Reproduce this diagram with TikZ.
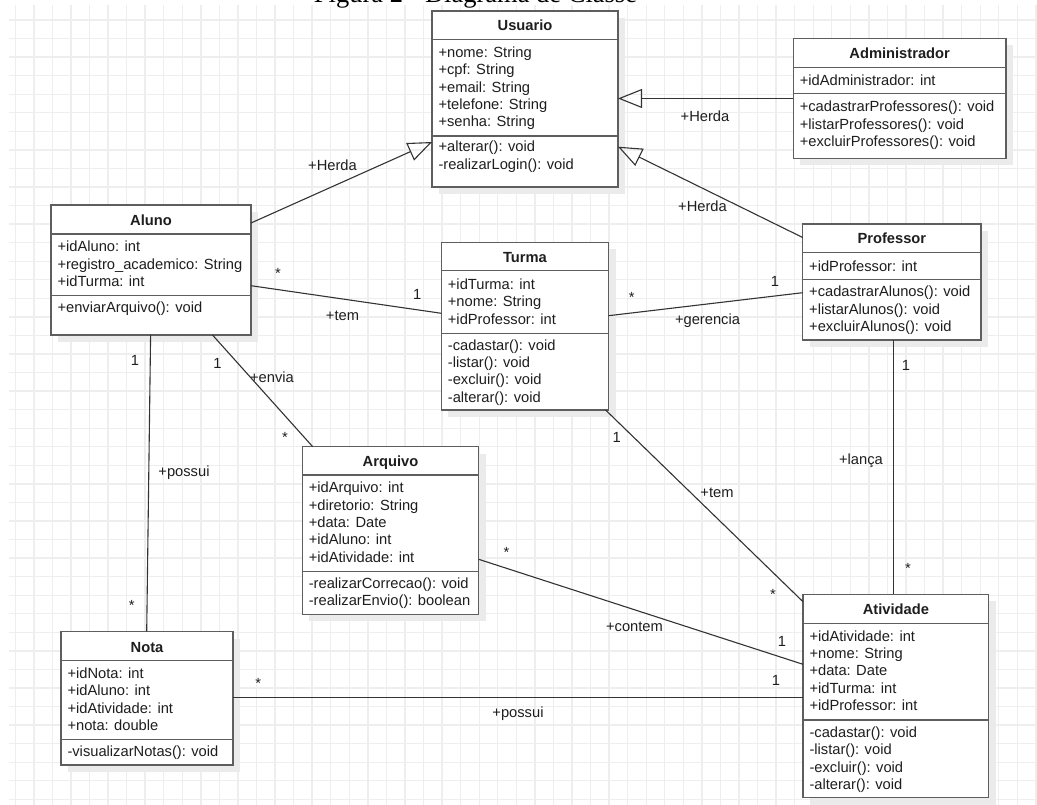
\documentclass[tikz,border=0pt]{standalone}
\usepackage{fontspec}
\setmainfont{Liberation Sans}
\newfontfamily\titlefont{Liberation Serif}
\usetikzlibrary{arrows.meta,calc}
\definecolor{gridc}{HTML}{EEEEEE}
\definecolor{boxc}{HTML}{5E5E5E}
\definecolor{linec}{HTML}{333333}
\definecolor{txtc}{HTML}{1E1E1E}
\definecolor{shadc}{HTML}{EBEBEB}

\newcommand\umlbox[8]{% name, x1, y1, x2, y2, header sep, attr sep, title
  \fill[shadc] (#2+7,#3+7) rectangle (#4+7,#5+7);
  \node[classbox, minimum width={(#4-#2)*1pt}, minimum height={(#5-#3)*1pt}] (#1) at (#2,#3) {};
  \draw[sepline] (#1.west |- 0,#6) -- (#1.east |- 0,#6);
  \draw[sepline] (#1.west |- 0,#7) -- (#1.east |- 0,#7);
  \node[ttl] (#1-title) at (#1.north |- 0,#6-8.6) {#8};
}
\newcommand\members[4]{% prefix, x, first baseline, list
  \foreach \t [count=\i from 0] in {#4} {\node[ln] (#1-\i) at (#2, #3+17.3*\i) {\t};}
}

\begin{document}
\begin{tikzpicture}[x=1pt,y=-1pt,
  every node/.style={font=\fontsize{14.7}{17.3}\selectfont, text=txtc, inner sep=0pt, outer sep=0pt},
  classbox/.style={draw=boxc, line width=1.5pt, fill=white, anchor=north west, inner sep=0pt, outer sep=0pt},
  sepline/.style={draw=boxc, line width=1.5pt},
  assoc/.style={draw=linec, line width=1.1pt},
  inherit/.style={assoc, -{Triangle[open, length=24pt, width=19pt, line width=1.1pt]}},
  ttl/.style={anchor=base, font=\fontsize{14.7}{17.3}\selectfont\bfseries},
  ln/.style={anchor=base west},
  lbl/.style={anchor=base}
]
\useasboundingbox (0,0) rectangle (1037,805);
\fill[white] (0,0) rectangle (1037,805);
\begin{scope}
\clip (0,0) rectangle (1037,805);
% grid
\foreach \k in {0,...,55} {\draw[gridc, line width=1.4pt] (15.3+18.556*\k,5) -- (15.3+18.556*\k,805);}
\foreach \k in {0,...,42} {\draw[gridc, line width=1.4pt] (9,20+18.556*\k) -- (1037,20+18.556*\k);}
% title
\node[anchor=base, font=\titlefont\fontsize{26.5}{30}\selectfont, text=black] (figtitle) at (475.5,2.5) {Figura 2 - Diagrama de Classe};
\end{scope}

% classes
\umlbox{usuario}{432}{11}{618}{187}{39.3}{136}{Usuario}
\members{usu-a}{438.5}{57.5}{+nome: String, +cpf: String, +email: String, +telefone: String, +senha: String}
\members{usu-m}{438.5}{152}{+alterar(): void, -realizarLogin(): void}

\umlbox{admin}{793.3}{38.3}{1006}{158.3}{67.3}{93.3}{Administrador}
\members{adm-a}{799.8}{85.2}{+idAdministrador: int}
\members{adm-m}{799.8}{112}{+cadastrarProfessores(): void, +listarProfessores(): void, +excluirProfessores(): void}

\umlbox{aluno}{51}{205}{251}{335}{234}{295.3}{Aluno}
\members{alu-a}{57.5}{252}{+idAluno: int, +registro\_academico: String, +idTurma: int}
\members{alu-m}{57.5}{312.5}{+enviarArquivo(): void}

\umlbox{turma}{441.4}{242.3}{608.6}{410}{270.7}{333.3}{Turma}
\members{tur-a}{447.9}{289.5}{+idTurma: int, +nome: String, +idProfessor: int}
\members{tur-m}{447.9}{350.2}{-cadastar(): void, -listar(): void, -excluir(): void, -alterar(): void}

\umlbox{prof}{802.7}{224}{981}{340}{252.3}{279.3}{Professor}
\members{pro-a}{809.2}{271.2}{+idProfessor: int}
\members{pro-m}{809.2}{296.9}{+cadastrarAlunos(): void, +listarAlunos(): void, +excluirAlunos(): void}

\umlbox{arquivo}{302.3}{446.7}{478.7}{614.3}{475}{571.7}{Arquivo}
\members{arq-a}{308.8}{492.9}{+idArquivo: int, +diretorio: String, +data: Date, +idAluno: int, +idAtividade: int}
\members{arq-m}{308.8}{588.5}{-realizarCorrecao(): void, -realizarEnvio(): boolean}

\umlbox{nota}{61}{631.7}{233}{765}{660.7}{739.3}{Nota}
\members{not-a}{67.5}{678.5}{+idNota: int, +idAluno: int, +idAtividade: int, +nota: double}
\members{not-m}{67.5}{756.9}{-visualizarNotas(): void}

\umlbox{ativ}{803}{594.3}{988.7}{797.7}{623.3}{720}{Atividade}
\members{ati-a}{809.5}{641.2}{+idAtividade: int, +nome: String, +data: Date, +idTurma: int, +idProfessor: int}
\members{ati-m}{809.5}{737.5}{-cadastar(): void, -listar(): void, -excluir(): void, -alterar(): void}

% inheritance
\draw[inherit] ($(aluno.north east)+(0,18)$) -- ($(usuario.south west)+(0,-45)$);
\draw[inherit] ($(admin.north west)+(0,60.2)$) -- ($(usuario.north east)+(0,87.5)$);
\draw[inherit] ($(prof.north west)+(0,13.5)$) -- ($(usuario.south east)+(0,-40.3)$);

% associations
\draw[assoc] ($(aluno.north east)+(0,80.7)$) -- ($(turma.north west)+(0,71)$);
\draw[assoc] ($(prof.north west)+(0,68.7)$) -- ($(turma.north east)+(0,73.4)$);
\draw[assoc] ($(aluno.south west)+(99.6,0)$) -- ($(nota.north west)+(85.7,0)$);
\draw[assoc] ($(aluno.south west)+(161.5,0)$) -- ($(arquivo.north west)+(10.4,0)$);
\draw[assoc] ($(turma.south east)+(-3,0)$) -- ($(ativ.north west)+(0,7.4)$);
\draw[assoc] ($(arquivo.north east)+(0,112.6)$) -- ($(ativ.north west)+(0,70)$);
\draw[assoc] ($(nota.north east)+(0,65.8)$) -- ($(ativ.north west)+(0,103.2)$);
\draw[assoc] ($(prof.south west)+(90.8,0)$) -- ($(ativ.north west)+(90.5,0)$);

% labels
\node[lbl] (h1) at (705,121.4) {+Herda};
\node[lbl] (h2) at (332.5,170.4) {+Herda};
\node[lbl] (h3) at (702.5,211.4) {+Herda};
\node[lbl] (m1) at (278,278.7) {*};
\node[lbl] (m2) at (417.3,299.7) {1};
\node[lbl] (r1) at (342.5,320) {+tem};
\node[lbl] (m3) at (631.7,302) {*};
\node[lbl] (m4) at (775,286.1) {1};
\node[lbl] (r2) at (707.5,324) {+gerencia};
\node[lbl] (m5) at (135,365.4) {1};
\node[lbl] (m6) at (217.5,368.7) {1};
\node[lbl] (r3) at (272,382.5) {+envia};
\node[lbl] (m7) at (285,442) {*};
\node[lbl] (m8) at (906,370.4) {1};
\node[lbl] (r4) at (184,476) {+possui};
\node[lbl] (m9) at (616.8,442.1) {1};
\node[lbl] (r5) at (861,464.5) {+lança};
\node[lbl] (r6) at (717,497) {+tem};
\node[lbl] (m10) at (506.6,557) {*};
\node[lbl] (m11) at (908,573.7) {*};
\node[lbl] (m12) at (773,599.4) {*};
\node[lbl] (m13) at (131.7,610.4) {*};
\node[lbl] (r7) at (634.5,631.5) {+contem};
\node[lbl] (m14) at (782,646.1) {1};
\node[lbl] (m15) at (258.3,688) {*};
\node[lbl] (m16) at (776,685.4) {1};
\node[lbl] (r8) at (518,717.5) {+possui};
\end{tikzpicture}
\end{document}
